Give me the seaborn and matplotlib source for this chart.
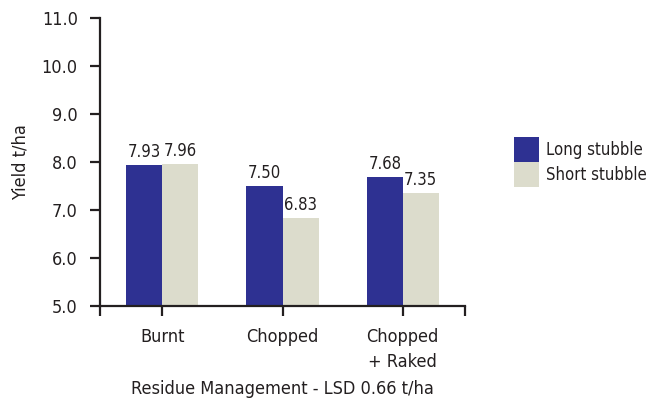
import matplotlib
matplotlib.use("Agg")
import matplotlib.pyplot as plt
import seaborn as sns
import pandas as pd
from matplotlib.patches import Patch

categories = ["Burnt", "Chopped", "Chopped\n+ Raked"]
series = ["Long stubble", "Short stubble"]
long_vals = [7.93, 7.50, 7.68]
short_vals = [7.96, 6.83, 7.35]
y_ticks = [5.0, 6.0, 7.0, 8.0, 9.0, 10.0, 11.0]

colors = ["#2e3192", "#dcdccc"]
txt = "#231f20"

sns.set_style("white")
plt.rcParams["font.family"] = ["DejaVu Sans"]
plt.rcParams["font.stretch"] = "condensed"

df = pd.DataFrame({
    "cat": categories * 2,
    "series": [series[0]] * 3 + [series[1]] * 3,
    "val": long_vals + short_vals,
})

fig = plt.figure(figsize=(6.52, 4.0), dpi=100)
ax = fig.add_axes([100 / 652, 1 - 306 / 400, 365 / 652, 288 / 400])

sns.barplot(data=df, x="cat", y="val", hue="series", order=categories,
            hue_order=series, palette=colors, width=0.6, gap=0,
            saturation=1, ax=ax, legend=False, errorbar=None,
            edgecolor="none", linewidth=0)

for cont in ax.containers:
    labels = ["%.2f" % b.get_height() for b in cont]
    ax.bar_label(cont, labels=labels, padding=3, fontsize=12, color=txt)

ax.set_ylim(5.0, 11.0)
ax.set_yticks(y_ticks)
ax.set_yticklabels(["%.1f" % t for t in y_ticks], fontsize=13, color=txt)
ax.set_xlim(-0.517, 2.517)
ax.set_xticks([0, 1, 2])
ax.set_xticklabels(categories, fontsize=13, color=txt, linespacing=1.5)
ax.set_xticks([-0.517, 2.517], minor=True)
ax.tick_params(axis="both", which="both", direction="out", length=7, width=1.6,
               color=txt, left=True, bottom=True)
ax.tick_params(axis="x", pad=9)
ax.tick_params(axis="y", pad=9)

for s in ["top", "right"]:
    ax.spines[s].set_visible(False)
for s in ["left", "bottom"]:
    ax.spines[s].set_linewidth(1.6)
    ax.spines[s].set_color(txt)

ax.set_ylabel("Yield t/ha", fontsize=13, color=txt, labelpad=9)
ax.set_xlabel("Residue Management - LSD 0.66 t/ha", fontsize=13, color=txt, labelpad=6)

handles = [Patch(facecolor=c, edgecolor="none", label=s) for c, s in zip(colors, series)]
fig.legend(handles=handles, loc="upper left", bbox_to_anchor=(514 / 652, 1 - 137 / 400),
           frameon=False, fontsize=12, handlelength=1.5, handleheight=1.92,
           handletextpad=0.4, labelspacing=0.0, borderpad=0.0, borderaxespad=0.0,
           labelcolor=txt)

fig.savefig("out.png", dpi=100)
